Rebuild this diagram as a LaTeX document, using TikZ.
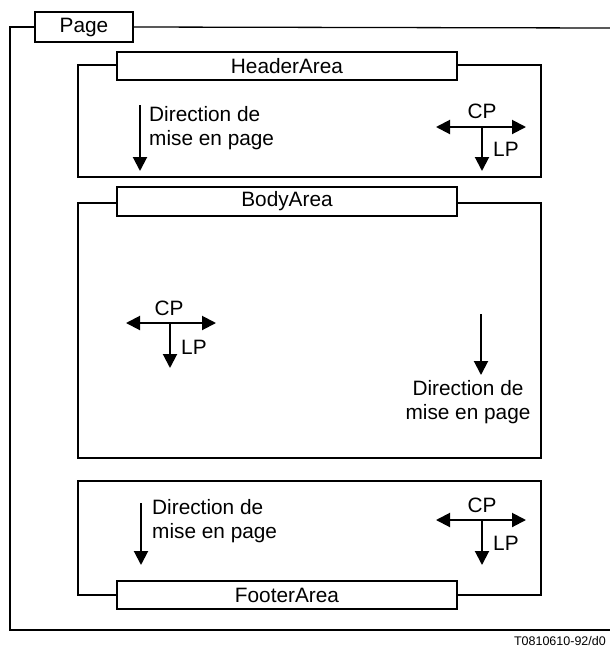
\documentclass[tikz,border=0pt]{standalone}
\usepackage{fontspec}
\setmainfont{Liberation Sans}
\usetikzlibrary{arrows.meta}
\begin{document}
\begin{tikzpicture}[x=1pt,y=-1pt,
  txt/.style={font=\fontsize{20.8}{24}\selectfont, inner sep=0pt},
  area/.style={draw, line width=1.3pt, rectangle, minimum width=463pt, inner sep=0pt},
  lbl/.style={draw, line width=1.3pt, fill=white, rectangle, inner sep=0pt, font=\fontsize{20.8}{24}\selectfont},
  arr/.style={line width=2pt, -{Triangle[length=14pt,width=14pt]}},
  darr/.style={line width=2pt, {Triangle[length=14pt,width=14pt]}-{Triangle[length=14pt,width=14pt]}},
  frame/.style={line width=1.3pt}
]
\useasboundingbox (0,0) rectangle (610,649);
% Page
\node[lbl, minimum width=98pt, minimum height=30pt] (page) at (84,27) {Page};
\coordinate (ptr) at (610,28);
\coordinate (pbl) at (10,630);
\coordinate (pbr) at (610,630);
\draw[frame] (page.west) -| (pbl) -- (pbr);
\draw[frame] (page.east) -- (ptr);
\node[txt, font=\fontsize{12.5}{15}\selectfont, anchor=east] (ref) at (606,641) {T0810610-92/d0};

% Header
\node[area, minimum height=112pt] (hdr) at (309.5,121) {};
\node[lbl, minimum width=340pt, minimum height=28pt] (hdrl) at (287,66) {HeaderArea};
\coordinate (hd1) at (140,105);
\coordinate (hd2) at (140,171);
\draw[arr] (hd1) -- (hd2);
\node[txt, align=left, anchor=west] (hdt) at (149,128.5) {Direction de\\mise en page};
\coordinate (hcl) at (436,127);
\coordinate (hcr) at (526,127);
\coordinate (hcc) at (482,127);
\coordinate (hcd) at (482,171);
\draw[darr] (hcl) -- (hcr);
\draw[arr] (hcc) -- (hcd);
\node[txt] (hcp) at (482,111) {CP};
\node[txt, anchor=west] (hlp) at (493,149) {LP};

% Body
\node[area, minimum height=255pt] (bdy) at (309.5,330.5) {};
\node[lbl, minimum width=340pt, minimum height=29pt] (bdyl) at (287,201.5) {BodyArea};
\coordinate (bcl) at (126,323);
\coordinate (bcr) at (216,323);
\coordinate (bcc) at (170,323);
\coordinate (bcd) at (170,368);
\draw[darr] (bcl) -- (bcr);
\draw[arr] (bcc) -- (bcd);
\node[txt] (bcp) at (169,308) {CP};
\node[txt, anchor=west] (blp) at (181,347) {LP};
\coordinate (bd1) at (481,314);
\coordinate (bd2) at (481,375);
\draw[arr] (bd1) -- (bd2);
\node[txt, align=center] (bdt) at (468,402) {Direction de\\mise en page};

% Footer
\node[area, minimum height=114pt] (ftr) at (309.5,538) {};
\node[lbl, minimum width=340pt, minimum height=28pt] (ftrl) at (287,595) {FooterArea};
\coordinate (fd1) at (141,503);
\coordinate (fd2) at (141,565);
\draw[arr] (fd1) -- (fd2);
\node[txt, align=left, anchor=west] (fdt) at (152,521.5) {Direction de\\mise en page};
\coordinate (fcl) at (436,520);
\coordinate (fcr) at (526,520);
\coordinate (fcc) at (482,520);
\coordinate (fcd) at (482,565);
\draw[darr] (fcl) -- (fcr);
\draw[arr] (fcc) -- (fcd);
\node[txt] (fcp) at (482,505) {CP};
\node[txt, anchor=west] (flp) at (493,543) {LP};
\end{tikzpicture}
\end{document}
